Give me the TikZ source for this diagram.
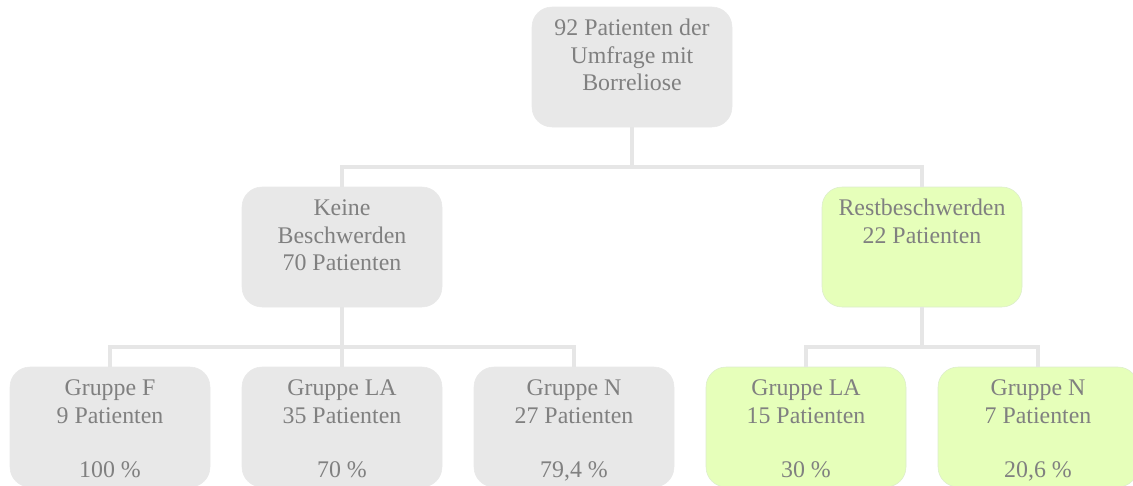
\documentclass[tikz,border=0pt]{standalone}
\usepackage{fontspec}
\setmainfont{Liberation Serif}
\usetikzlibrary{positioning}
\definecolor{cBox}{RGB}{232,232,232}
\definecolor{cRest}{RGB}{230,255,186}
\definecolor{cRestLine}{RGB}{220,236,204}
\definecolor{cTxt}{RGB}{128,128,128}
\definecolor{cLine}{RGB}{230,230,230}
\newcommand{\boxtext}[1]{\parbox[c][90pt][t]{150pt}{\centering\rule{0pt}{21.5pt}#1}}

\begin{document}
\begin{tikzpicture}[x=0.75pt, y=-0.75pt, on grid,
                    every node/.style={font=\fontsize{17.9}{20.5}\selectfont, text=cTxt},
                    grp/.style={rectangle, rounded corners=15pt, inner sep=0pt, fill=cBox, draw=cBox},
                    rest/.style={grp, fill=cRest, draw=cRestLine},
                    conn/.style={draw=cLine, line width=3pt}]
    \path[use as bounding box, clip] (0,0) rectangle (1133,486);

    % Nodes
    \node[grp] (all) at (632,67) {\boxtext{92 Patienten der\\Umfrage mit\\Borreliose}};
    \node[grp] (keine) [below left=135pt and 217.5pt of all] {\boxtext{Keine\\Beschwerden\\70 Patienten}};
    \node[rest] (restb) [below right=135pt and 217.5pt of all] {\boxtext{Restbeschwerden\\22 Patienten}};

    \node[grp] (kF) [below left=135pt and 174pt of keine] {\boxtext{Gruppe F\\9 Patienten\\[\baselineskip]100 \%}};
    \node[grp] (kLA) [below=135pt of keine] {\boxtext{Gruppe LA\\35 Patienten\\[\baselineskip]70 \%}};
    \node[grp] (kN) [below right=135pt and 174pt of keine] {\boxtext{Gruppe N\\27 Patienten\\[\baselineskip]79,4 \%}};
    \node[rest] (rLA) [below left=135pt and 87pt of restb] {\boxtext{Gruppe LA\\15 Patienten\\[\baselineskip]30 \%}};
    \node[rest] (rN) [below right=135pt and 87pt of restb] {\boxtext{Gruppe N\\7 Patienten\\[\baselineskip]20,6 \%}};

    % Connectors
    \draw[conn] (all.south) -- ++(0,40) -| (keine.north);
    \draw[conn] (all.south) -- ++(0,40) -| (restb.north);
    \foreach \kid in {kF, kLA, kN}
        \draw[conn] (keine.south) -- ++(0,40) -| (\kid.north);
    \foreach \kid in {rLA, rN}
        \draw[conn] (restb.south) -- ++(0,40) -| (\kid.north);
\end{tikzpicture}
\end{document}
